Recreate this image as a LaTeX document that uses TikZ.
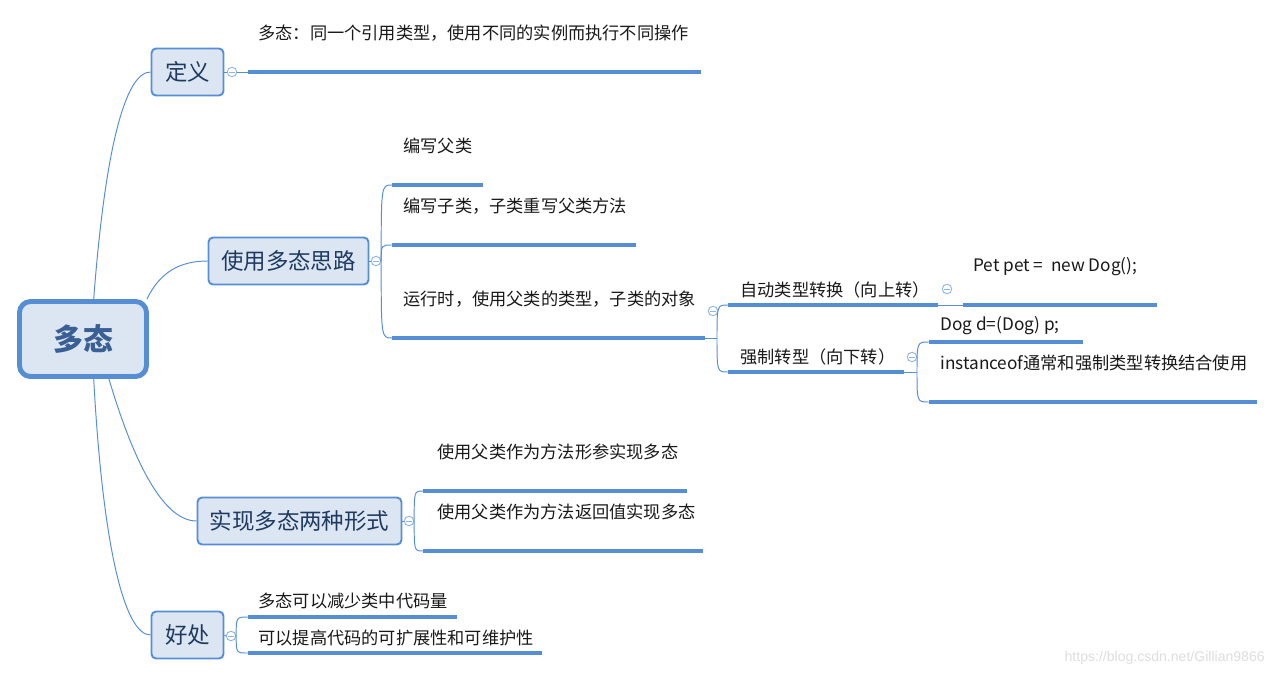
\documentclass[tikz,border=0pt]{standalone}
\usepackage{fontspec}
\setmainfont{Noto Sans CJK SC}
\newfontfamily\markfont{Liberation Sans}
\definecolor{linec}{HTML}{558ED5}
\definecolor{boxfill}{HTML}{DCE6F2}
\definecolor{boxtext}{HTML}{1F3A60}
\definecolor{roottext}{HTML}{3A5F95}
\definecolor{foldc}{HTML}{8EB4E3}

\begin{document}
\begin{tikzpicture}[
    x=0.02cm, y=-0.02cm,
    every node/.style={inner sep=0pt},
    rootbox/.style={draw=linec, fill=boxfill, line width=2.8pt, rounded corners=0.22cm,
        minimum width=2.54cm, minimum height=1.5cm,
        font=\fontsize{17}{20}\selectfont\bfseries, text=roottext},
    topic/.style={draw=linec, fill=boxfill, line width=1.1pt, rounded corners=0.09cm,
        minimum height=0.94cm, font=\fontsize{12.8}{15}\selectfont, text=boxtext},
    leaf/.style={anchor=west, font=\fontsize{9.8}{12}\selectfont, text=black!90},
    uline/.style={linec, line width=2pt},
    link/.style={linec, line width=0.55pt},
    fold/.style={circle, draw=foldc, fill=white, line width=0.5pt, minimum size=0.19cm,
        path picture={\draw[foldc, line width=0.5pt]
            ([xshift=-1.5pt]path picture bounding box.center) -- ([xshift=1.5pt]path picture bounding box.center);}},
]
\fill[white] (0,0) rectangle (1274,676);

% ================================================================ root and main topics
\node[rootbox] (root) at (83,339) {多态};
\node[topic, minimum width=1.44cm] (def) at (187.5,72) {定义};
\node[topic, minimum width=3.2cm] (idea) at (288.5,261) {使用多态思路};
\node[topic, minimum width=4.08cm] (form) at (299.5,521) {实现多态两种形式};
\node[topic, minimum width=1.44cm] (gain) at (187.5,635) {好处};

\draw[link] (root.75) .. controls (105,150) and (125,72) .. (def.west);
\draw[link] (root.32) .. controls (160,272) and (180,261) .. (idea.west);
\draw[link] (root.-57) .. controls (130,450) and (160,521) .. (form.west);
\draw[link] (root.-75) .. controls (103,550) and (125,635) .. (gain.west);

% fold marks
\node[fold] (def f) at (232,72) {};
\node[fold] (idea f) at (376,261) {};
\node[fold] (form f) at (409,521) {};
\node[fold] (gain f) at (231,636) {};
\node[fold] (i3 f) at (713,311) {};
\node[fold] (a1 f) at (947,289) {};
\node[fold] (a2 f) at (912,357) {};
\foreach \t in {def, idea, form, gain}{ \draw[link] (\t.east) -- (\t\space f.west); }

% ================================================================ underlines
\foreach \n/\x/\y/\l in {d1/248/72/453, i1/392/185/91, i2/392/245/244, i3/392/338/313,
        a1/728/305/210, a2/728/372/176, p1/963/305/194, c1/929/342/154, c2/929/402/328,
        f1/423/491/264, f2/423/551/280, g1/248/617/209, g2/248/653/294}{
    \coordinate (\n) at (\x,\y);
    \draw[uline] (\n) -- ++(\l,0) coordinate (\n e);
}

% ================================================================ texts
\node[leaf] (d1 t) at (258,33) {多态：同一个引用类型，使用不同的实例而执行不同操作};
\node[leaf] (i1 t) at (403,146) {编写父类};
\node[leaf] (i2 t) at (403,206) {编写子类，子类重写父类方法};
\node[leaf] (i3 t) at (403,299) {运行时，使用父类的类型，子类的对象};
\node[leaf] (a1 t) at (740,290) {自动类型转换（向上转）};
\node[leaf] (a2 t) at (740,357) {强制转型（向下转）};
\node[leaf] (p1 t) at (973,267) {Pet pet =\ \ new Dog();};
\node[leaf] (c1 t) at (940,326) {Dog d=(Dog) p;};
\node[leaf] (c2 t) at (940,363) {instanceof通常和强制类型转换结合使用};
\node[leaf] (f1 t) at (437,452) {使用父类作为方法形参实现多态};
\node[leaf] (f2 t) at (437,512) {使用父类作为方法返回值实现多态};
\node[leaf] (g1 t) at (258,601) {多态可以减少类中代码量};
\node[leaf] (g2 t) at (258,638) {可以提高代码的可扩展性和可维护性};

% ================================================================ brackets
\draw[link] (def f.east) -- (d1);
\foreach \c in {i1, i2, i3}{ \draw[link] (idea f.east) .. controls (idea f.east |- \c) .. (\c); }
\draw[link] (i3e) -- ++(12,0) coordinate (i3j);
\foreach \c in {a1, a2}{ \draw[link] (i3j) .. controls (i3j |- \c) .. (\c); }
\draw[link] (a1e) -- (p1);
\draw[link] (a2e) -- ++(13,0) coordinate (a2j);
\foreach \c in {c1, c2}{ \draw[link] (a2j) .. controls (a2j |- \c) .. (\c); }
\foreach \c in {f1, f2}{ \draw[link] (form f.east) .. controls (form f.east |- \c) .. (\c); }
\foreach \c in {g1, g2}{ \draw[link] (gain f.east) .. controls (gain f.east |- \c) .. (\c); }

\node[anchor=east, font=\markfont\fontsize{8}{10}\selectfont, text=black!13] (mark) at (1265,658)
    {https://blog.csdn.net/Gillian9866};
\end{tikzpicture}
\end{document}
